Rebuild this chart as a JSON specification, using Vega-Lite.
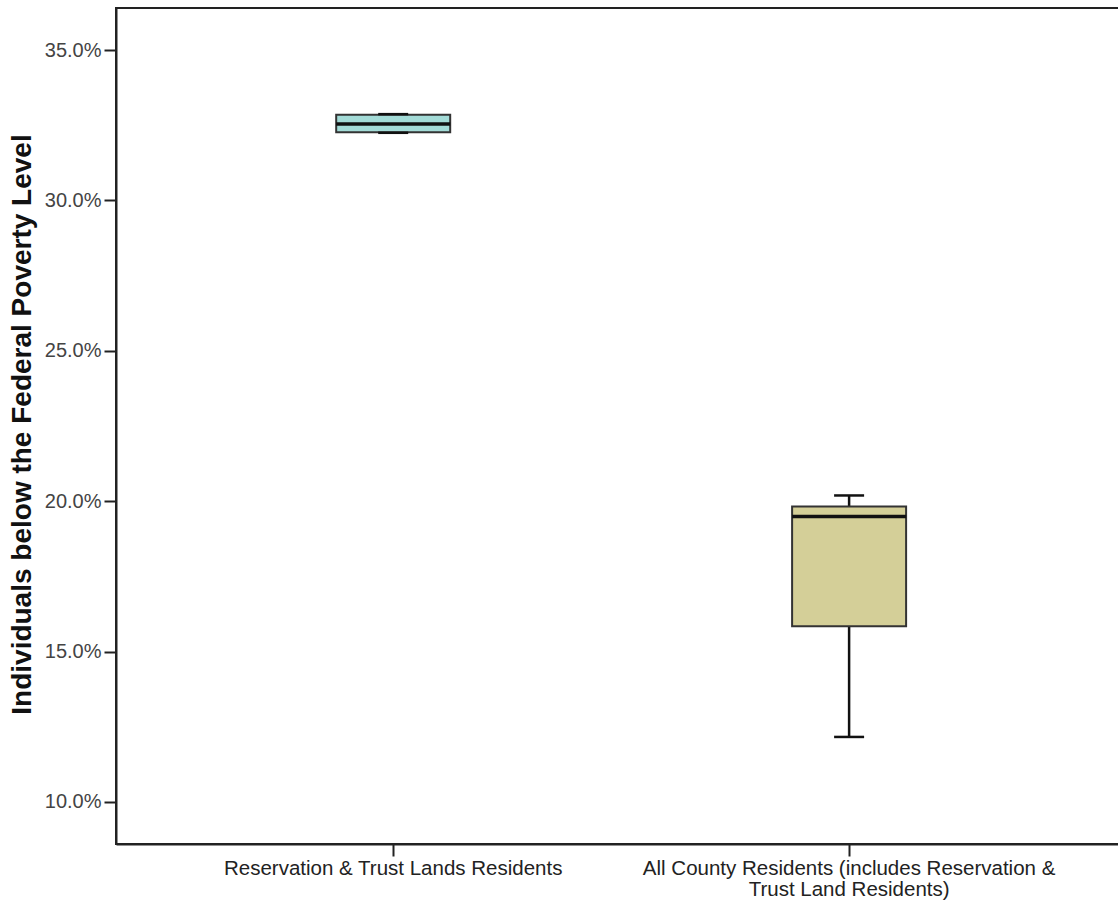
{
  "$schema": "https://vega.github.io/schema/vega-lite/v6.json",
  "autosize": {"type": "none"},
  "padding": {"left": 116, "top": 8, "right": 0, "bottom": 57},
  "width": 1003,
  "height": 836,
  "background": "white",
  "config": {
    "font": "Liberation Sans",
    "view": {"stroke": "#222", "strokeWidth": 2},
    "axis": {"grid": false}
  },
  "data": {
    "values": [
      {"group": "Reservation & Trust Lands Residents", "min": 0.3225, "q1": 0.3227, "median": 0.3254, "q3": 0.3285, "max": 0.3287, "fill": "#a3dbd7"},
      {"group": "All County Residents (includes Reservation & Trust Land Residents)", "min": 0.1216, "q1": 0.1584, "median": 0.1949, "q3": 0.1982, "max": 0.2019, "fill": "#d4cf98"}
    ]
  },
  "encoding": {
    "x": {
      "field": "group",
      "type": "nominal",
      "sort": null,
      "scale": {"paddingInner": 0, "paddingOuter": 0.1, "align": 0.54},
      "axis": {
        "title": null,
        "labelAngle": 0,
        "labelFontSize": 20.5,
        "labelColor": "#222",
        "labelLimit": 0,
        "labelPadding": 2,
        "labelLineHeight": 21,
        "tickSize": 12,
        "tickWidth": 2,
        "tickColor": "#222",
        "domainColor": "#222",
        "domainWidth": 2,
        "labelExpr": "datum.value == 'All County Residents (includes Reservation & Trust Land Residents)' ? ['All County Residents (includes Reservation &', 'Trust Land Residents)'] : datum.value"
      }
    }
  },
  "layer": [
    {
      "mark": {"type": "rule", "color": "#111", "strokeWidth": 2.5},
      "encoding": {
        "y": {
          "field": "min",
          "type": "quantitative",
          "scale": {"domain": [0.086, 0.364], "nice": false, "zero": false},
          "axis": {
            "title": "Individuals below the Federal Poverty Level",
            "values": [0.10, 0.15, 0.20, 0.25, 0.30, 0.35],
            "format": ".1%",
            "labelFontSize": 20,
            "labelColor": "#444",
            "labelPadding": 3,
            "tickSize": 12,
            "tickWidth": 2,
            "tickColor": "#222",
            "domainColor": "#222",
            "domainWidth": 2,
            "titleFontSize": 28,
            "titleFontWeight": "bold",
            "titleColor": "#111",
            "titleX": -94,
            "titleY": 416,
            "titleAlign": "center",
            "titleBaseline": "middle",
            "titleAngle": -90
          }
        },
        "y2": {"field": "q1"}
      }
    },
    {
      "mark": {"type": "rule", "color": "#111", "strokeWidth": 2.5},
      "encoding": {
        "y": {"field": "q3", "type": "quantitative"},
        "y2": {"field": "max"}
      }
    },
    {
      "mark": {"type": "bar", "size": 114, "stroke": "#333", "strokeWidth": 2},
      "encoding": {
        "y": {"field": "q1", "type": "quantitative"},
        "y2": {"field": "q3"},
        "fill": {"field": "fill", "type": "nominal", "scale": null}
      }
    },
    {
      "mark": {"type": "tick", "size": 114, "thickness": 3.5, "color": "#111", "opacity": 1},
      "encoding": {
        "y": {"field": "median", "type": "quantitative"}
      }
    },
    {
      "mark": {"type": "tick", "size": 30, "thickness": 2.5, "color": "#111", "opacity": 1},
      "encoding": {
        "y": {"field": "max", "type": "quantitative"}
      }
    },
    {
      "mark": {"type": "tick", "size": 30, "thickness": 2.5, "color": "#111", "opacity": 1},
      "encoding": {
        "y": {"field": "min", "type": "quantitative"}
      }
    }
  ]
}
